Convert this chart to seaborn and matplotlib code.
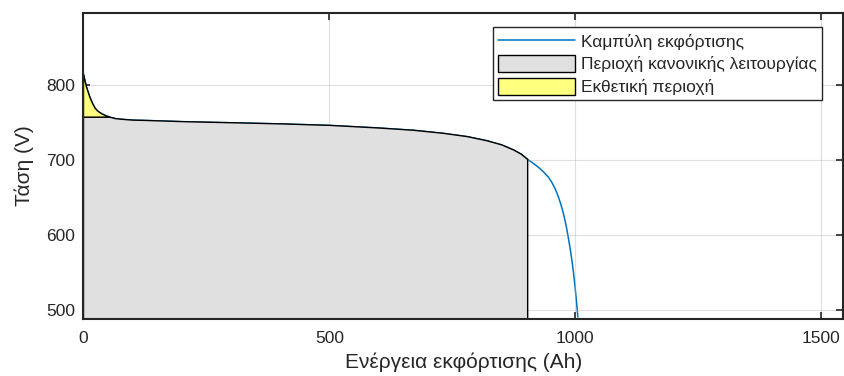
import numpy as np
import pandas as pd
import matplotlib
matplotlib.use("Agg")
import matplotlib.pyplot as plt
import seaborn as sns
from matplotlib.patches import Patch
from matplotlib.lines import Line2D

# Discharge curve of the battery pack: extracted capacity (Ah) vs terminal voltage (V)
capacity_ah = [0, 3, 6, 9, 13, 19, 24, 30, 37, 45, 53, 65, 80, 100, 130, 200,
               300, 400, 500, 600, 670, 730, 780, 820, 850, 875, 890, 903,
               915, 925, 935, 945, 952, 958, 963, 967, 971, 975, 979, 982,
               985, 988, 991, 994, 996, 998, 1000, 1002, 1004, 1005]
voltage_v = [815, 806, 798, 792, 784, 775, 769, 765, 762, 759.5, 757.5, 755.5,
             754.5, 753.5, 753, 751.5, 750, 748.5, 746.5, 743, 740, 736, 731.5,
             726, 720.5, 713.5, 708, 701, 695.5, 690.5, 684.5, 677.5, 670.5, 663,
             655.5, 648, 640, 630.5, 619.5, 610, 599, 587.5, 575, 561, 550.5,
             539, 526.5, 513, 498.5, 490.5]

# Zone boundaries
exp_end_ah = 53        # end of exponential zone
exp_voltage = 757.5    # voltage at end of exponential zone
nom_end_ah = 903       # end of nominal zone
nom_voltage = 701      # voltage at end of nominal zone

legend_labels = ["Καμπύλη εκφόρτισης", "Περιοχή κανονικής λειτουργίας", "Εκθετική περιοχή"]
xticks = [0, 500, 1000, 1500]
yticks = [500, 600, 700, 800]

df = pd.DataFrame({"capacity": capacity_ah, "voltage": voltage_v})

sns.set_theme(style="ticks")
plt.rcParams["font.family"] = ["Liberation Sans", "DejaVu Sans"]

fig = plt.figure(figsize=(8.45, 3.76), dpi=100)
ax = fig.add_axes([0.0988, 0.1516, 0.8988, 0.8138])

ymin, ymax = 488, 896.5
xmin, xmax = 0, 1544

line_color = "#0072BD"
gray_fill = "#e0e0e0"
yellow_fill = "#ffff80"

# Full discharge curve
sns.lineplot(data=df, x="capacity", y="voltage", ax=ax, color=line_color,
             linewidth=1.1, zorder=2, sort=False, estimator=None)

cap = np.array(capacity_ah, dtype=float)
volt = np.array(voltage_v, dtype=float)

# Nominal zone polygon
nom_mask = (cap >= exp_end_ah) & (cap <= nom_end_ah)
nom_x = np.concatenate([[0, 0], cap[nom_mask], [nom_end_ah]])
nom_y = np.concatenate([[ymin - 50, exp_voltage], volt[nom_mask], [ymin - 50]])
ax.fill(nom_x, nom_y, facecolor=gray_fill, edgecolor="black", linewidth=1.0, zorder=3)

# Exponential zone polygon
exp_mask = cap <= exp_end_ah
exp_x = np.concatenate([[0], cap[exp_mask]])
exp_y = np.concatenate([[exp_voltage], volt[exp_mask]])
ax.fill(exp_x, exp_y, facecolor=yellow_fill, edgecolor="black", linewidth=1.0, zorder=3)

ax.set_xlim(xmin, xmax)
ax.set_ylim(ymin, ymax)
ax.set_xticks(xticks)
ax.set_yticks(yticks)

ax.grid(True, color="#b0b0b0", alpha=0.4, linewidth=0.8)
ax.set_axisbelow(False)

for side in ["top", "right", "bottom", "left"]:
    ax.spines[side].set_visible(True)
    ax.spines[side].set_color("#262626")
    ax.spines[side].set_linewidth(1.5)
    ax.spines[side].set_zorder(5)

ax.tick_params(axis="both", which="both", direction="in", length=5, width=1.2,
               top=True, right=True, labelsize=12.5, colors="#262626", pad=6)
ax.tick_params(axis="x", pad=9)

ax.set_xlabel("Ενέργεια εκφόρτισης (Ah)", fontsize=15, color="#262626", labelpad=4)
ax.set_ylabel("Τάση (V)", fontsize=15, color="#262626", labelpad=9)

handles = [
    Line2D([0], [0], color=line_color, linewidth=1.1),
    Patch(facecolor=gray_fill, edgecolor="black", linewidth=1.0),
    Patch(facecolor=yellow_fill, edgecolor="black", linewidth=1.0),
]
leg = ax.legend(handles, legend_labels, loc="upper right",
                bbox_to_anchor=(0.9724, 0.954), borderaxespad=0,
                fontsize=12.5, frameon=True, fancybox=False, framealpha=1,
                edgecolor="#262626", handlelength=4.4, handleheight=1.15,
                handletextpad=0.35, labelspacing=0.3, borderpad=0.3)
leg.get_frame().set_linewidth(1.0)
leg.set_zorder(6)

fig.savefig("out.png", dpi=100)
